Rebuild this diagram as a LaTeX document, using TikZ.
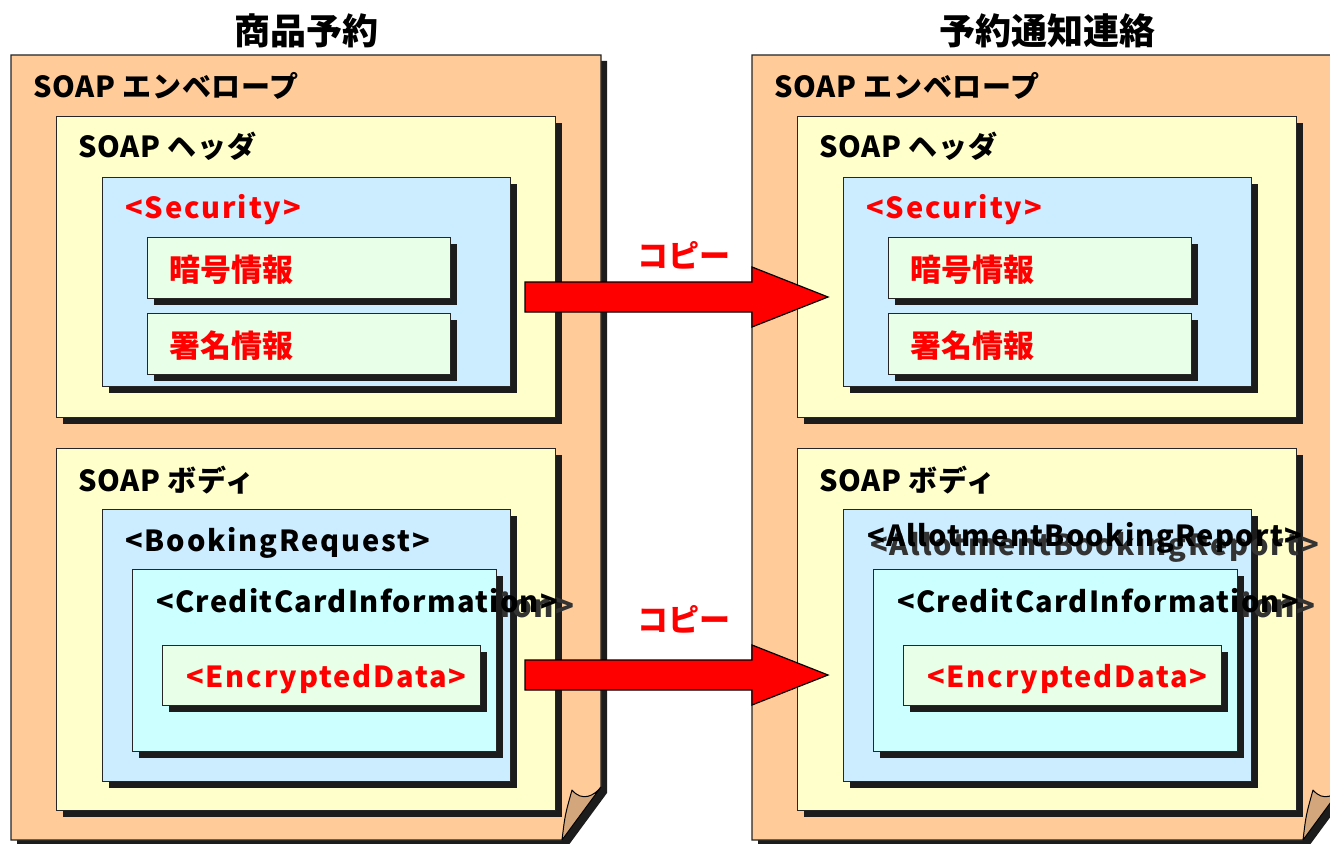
\documentclass[tikz,border=0pt]{standalone}
\usepackage{fontspec}
\setmainfont{Noto Sans CJK JP}
\usetikzlibrary{shadows}

\definecolor{envc}{HTML}{FFCC99}
\definecolor{hdrc}{HTML}{FFFFCC}
\definecolor{secc}{HTML}{CCECFF}
\definecolor{cardc}{HTML}{CCFFFF}
\definecolor{itemc}{HTML}{E8FFE8}
\definecolor{shd}{HTML}{1C1C1C}
\definecolor{curlc}{HTML}{D4A67C}
\definecolor{ghost}{HTML}{333333}

\tikzset{
  box/.style={draw=black!85, line width=1.2pt, anchor=north west, inner sep=0pt,
    general shadow={fill=shd, shadow xshift=6pt, shadow yshift=-6pt}},
  lab/.style={anchor=base west, inner sep=0pt,
    font=\bfseries\fontsize{29}{29}\selectfont\addfontfeature{LetterSpace=2.5}},
  tag/.style={anchor=base west, inner sep=0pt,
    font=\bfseries\fontsize{29}{29}\selectfont\addfontfeature{LetterSpace=6.5}},
  narrowtag/.style={anchor=base west, inner sep=0pt,
    font=\bfseries\fontsize{29}{29}\selectfont\addfontfeature{LetterSpace=4.5}},
  bigtag/.style={anchor=base west, inner sep=0pt,
    font=\bfseries\fontsize{31}{31}\selectfont\addfontfeature{LetterSpace=6}},
  jlab/.style={anchor=base west, inner sep=0pt, font=\bfseries\fontsize{31}{31}\selectfont},
  ttl/.style={anchor=base, inner sep=0pt, font=\bfseries\fontsize{36}{36}\selectfont},
  redtxt/.style={text=red},
  bigarrow/.style={fill=red, draw=black, line width=1.2pt, line join=miter},
}

% one SOAP envelope with header and body
\newcommand\soapcolumn[2]{%
  \begin{scope}[shift={(#1,0)}, name prefix=#2-]
    % envelope with dog-eared corner
    \fill[shd] (17,61) -- (607,61) -- (607,793) -- (568,846) -- (17,846) -- cycle;
    \filldraw[fill=envc, draw=black!85, line width=1.2pt]
      (11,55) -- (601,55) -- (601,787) -- (562,840) -- (11,840) -- cycle;
    \filldraw[fill=curlc, draw=black, line width=1pt, line join=round]
      (562,840) .. controls (565,815) .. (572,790)
      .. controls (582,802) and (594,796) .. (601,787) -- cycle;
    \coordinate (env) at (11,55);
    \node[lab] (envlab) at (33,97) {SOAP エンベロープ};
    % header
    \node[box, fill=hdrc, minimum width=499pt, minimum height=301pt] (hdr) at (56,116) {};
    \node[lab] (hdrlab) at (78,157) {SOAP ヘッダ};
    \node[box, fill=secc, minimum width=408pt, minimum height=209pt] (sec) at (102,177) {};
    \node[tag, redtxt] (seclab) at (125,218) {<Security>};
    \node[box, fill=itemc, minimum width=303pt, minimum height=61pt] (enc) at (147,237) {};
    \node[jlab, redtxt] (enclab) at (169,281) {暗号情報};
    \node[box, fill=itemc, minimum width=303pt, minimum height=61pt] (sig) at (147,313) {};
    \node[jlab, redtxt] (siglab) at (169,357) {署名情報};
    % body
    \node[box, fill=hdrc, minimum width=499pt, minimum height=362pt] (body) at (56,448) {};
    \node[lab] (bodylab) at (78,491) {SOAP ボディ};
    \node[box, fill=secc, minimum width=408pt, minimum height=272pt] (req) at (102,509) {};
    \node[box, fill=cardc, minimum width=364pt, minimum height=182pt] (card) at (132,569) {};
    \node[bigtag, text=ghost] (cardtail) at (500,617) {ion>};
    \node[narrowtag] (cardlab) at (156,612) {<CreditCardInformation>};
    \node[box, fill=itemc, minimum width=318pt, minimum height=60pt] (data) at (162,645) {};
    \node[tag, redtxt] (datalab) at (186,687) {<EncryptedData>};
  \end{scope}
}

\begin{document}
\begin{tikzpicture}[x=1pt, y=-1pt]
  \useasboundingbox (0,0) rectangle (1330,843);
  \clip (0,0) rectangle (1330,843);

  \node[ttl] (tleft) at (306,45) {商品予約};
  \node[ttl] (tright) at (1047,45) {予約通知連絡};

  \soapcolumn{0}{L}
  \node[tag] (reqL) at (125,551) {<BookingRequest>};

  \soapcolumn{741}{R}
  \node[tag, text=ghost] (reqRg) at (870,555) {<AllotmentBookingReport>};
  \node[narrowtag] (reqR) at (867,546) {<AllotmentBookingReport>};

  % copy arrows
  \coordinate (a1s) at (525,297);
  \coordinate (a1t) at (828,297);
  \draw[bigarrow] (525,282) -- (752,282) -- (752,267) -- (a1t) -- (752,327) -- (752,312) -- (525,312) -- cycle;
  \node[jlab, redtxt] (cp1) at (637,267) {コピー};

  \coordinate (a2s) at (525,675);
  \coordinate (a2t) at (828,675);
  \draw[bigarrow] (525,660) -- (752,660) -- (752,645) -- (a2t) -- (752,705) -- (752,690) -- (525,690) -- cycle;
  \node[jlab, redtxt] (cp2) at (637,631) {コピー};
\end{tikzpicture}
\end{document}
